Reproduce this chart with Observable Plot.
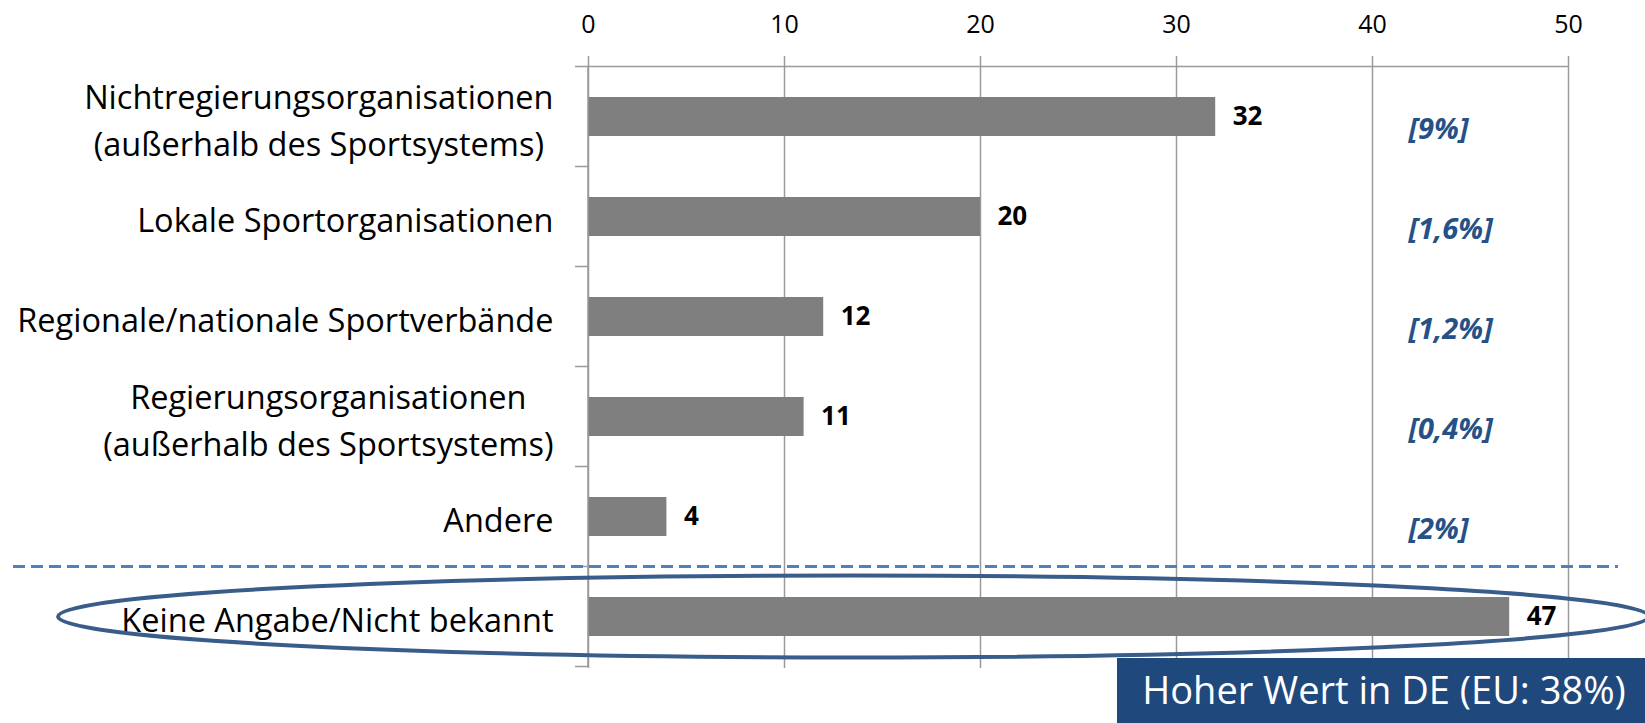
<!DOCTYPE html>
<html>
<head>
<meta charset="utf-8">
<script src="https://cdn.jsdelivr.net/npm/d3@7"></script>
<script src="https://cdn.jsdelivr.net/npm/@observablehq/plot@0.6"></script>
<style>
  html, body { margin: 0; padding: 0; background: #fff; }
  #chart svg { display: block; }
</style>
</head>
<body>
<div id="chart"></div>
<script>
// Organisation types and counts
const categories = [
  "Nichtregierungsorganisationen\n(außerhalb des Sportsystems)",
  "Lokale Sportorganisationen",
  "Regionale/nationale Sportverbände",
  "Regierungsorganisationen\n(außerhalb des Sportsystems)",
  "Andere",
  "Keine Angabe/Nicht bekannt"
];
const values = [32, 20, 12, 11, 4, 47];
// EU comparison shares, shown in the right-hand column
const euShares = ["[9%]", "[1,6%]", "[1,2%]", "[0,4%]", "[2%]", null];
const xTicks = [0, 10, 20, 30, 40, 50];
const euColumnAt = 40;
const highlightNote = "Hoher Wert in DE (EU: 38%)";

const rows = categories.map((category, i) => ({category, value: values[i], eu: euShares[i]}));

const FONT = "'Open Sans', sans-serif";
const W = 1645, H = 723;

const chart = Plot.plot({
  width: W,
  height: H,
  marginLeft: 588,
  marginRight: 77,
  marginTop: 65,
  marginBottom: 55,
  style: {fontFamily: FONT, background: "#fff", overflow: "visible"},
  x: {domain: [0, 50], axis: null},
  y: {domain: categories, paddingInner: 0.61, paddingOuter: 0.305, axis: null},
  marks: [
    // vertical gridlines, poking slightly above the top axis line
    Plot.ruleX(xTicks, {x: d => d, stroke: "#9a9a9a", strokeWidth: 1.5, insetTop: -9}),
    // top tick labels
    Plot.text(xTicks, {x: d => d, frameAnchor: "top", dy: -41, text: d => String(d),
      fontSize: 25, fill: "#000", lineAnchor: "middle"}),
    Plot.barX(rows, {x: "value", y: "category", fill: "#7f7f7f"}),
    // value labels
    Plot.text(rows, {x: "value", y: "category", text: d => String(d.value), textAnchor: "start",
      dx: 17, fontSize: 26, fontWeight: "bold", fill: "#000"}),
    // EU shares
    Plot.text(rows.filter(d => d.eu), {x: () => euColumnAt, y: "category", text: "eu", textAnchor: "start",
      dx: 36, dy: 13, fontSize: 29, fontWeight: "bold", fontStyle: "italic", fill: "#265186"}),
    // category labels (realigned after layout)
    Plot.text(rows, {frameAnchor: "left", y: "category", text: "category", textAnchor: "middle",
      fontSize: 32.5, lineHeight: 1.45, fill: "#000"})
  ]
});

document.getElementById("chart").appendChild(chart);

const svg = d3.select(chart);
const x = chart.scale("x");
const y = chart.scale("y");
const gap = (y.step - y.bandwidth) / 2;
const x0 = x.apply(0);
const plotTop = y.apply(categories[0]) - gap;
const plotBottom = y.apply(categories[categories.length - 1]) + y.bandwidth + gap;

// right-align each category block, centring its lines among themselves
const textGroups = svg.selectAll('g[aria-label="text"]').nodes();
const labelGroup = textGroups[textGroups.length - 1];
d3.select(labelGroup).selectAll("text").each(function () {
  const w = this.getBBox().width;
  const t = this.getAttribute("transform") || "";
  this.setAttribute("transform", `${t} translate(${-w / 2 - 35},0)`);
});

const ann = svg.append("g");
// axis lines
ann.append("line").attr("x1", x0 - 13).attr("x2", x.apply(50)).attr("y1", plotTop).attr("y2", plotTop)
  .attr("stroke", "#9a9a9a").attr("stroke-width", 1.5);
ann.append("line").attr("x1", x0).attr("x2", x0).attr("y1", plotTop).attr("y2", plotBottom)
  .attr("stroke", "#9a9a9a").attr("stroke-width", 1.5);
// category boundary ticks
categories.forEach((c) => {
  const yy = y.apply(c) + y.bandwidth + gap;
  ann.append("line").attr("x1", x0 - 13).attr("x2", x0).attr("y1", yy).attr("y2", yy)
    .attr("stroke", "#9a9a9a").attr("stroke-width", 1.5);
});

// dashed separator before the last category
const sepY = y.apply(categories[categories.length - 1]) - gap;
ann.append("line").attr("x1", 13).attr("x2", 1618).attr("y1", sepY).attr("y2", sepY)
  .attr("stroke", "#4f81bd").attr("stroke-width", 3).attr("stroke-dasharray", "12 6");

// ellipse around the last category
const lastMid = y.apply(categories[categories.length - 1]) + y.bandwidth / 2;
ann.append("ellipse").attr("cx", (58 + W + 4) / 2).attr("cy", lastMid).attr("rx", (W + 4 - 58) / 2).attr("ry", 41)
  .attr("fill", "none").attr("stroke", "#385d8a").attr("stroke-width", 4);

// note box
const boxX = 1117, boxY = 658;
ann.append("rect").attr("x", boxX).attr("y", boxY).attr("width", W - boxX).attr("height", H - boxY)
  .attr("fill", "#1f497d");
ann.append("text").attr("x", 1384).attr("y", 704)
  .attr("text-anchor", "middle")
  .attr("font-family", FONT).attr("font-size", 38).attr("fill", "#fff").text(highlightNote);
</script>
</body>
</html>
